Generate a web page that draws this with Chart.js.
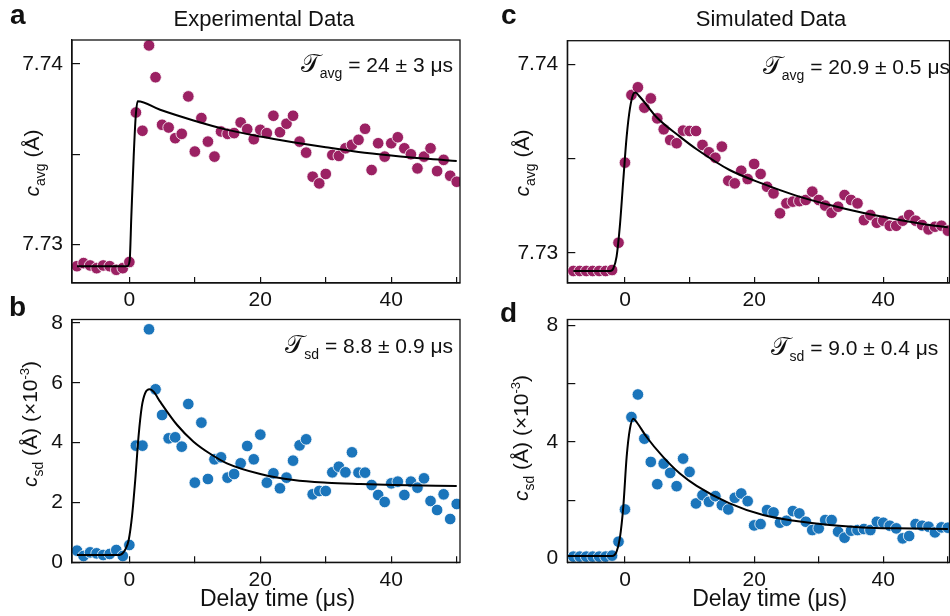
<!DOCTYPE html>
<html><head><meta charset="utf-8">
<script src="https://cdn.jsdelivr.net/npm/chart.js@4.4.1/dist/chart.umd.min.js"></script>
<style>
html,body{margin:0;padding:0;background:#fff;}
#wrap{position:relative;width:950px;height:616px;overflow:hidden;font-family:"Liberation Sans",Arial,sans-serif;color:#111;}
canvas{position:absolute;}
.let{position:absolute;font-weight:bold;font-size:28px;line-height:1;}
.ttl{position:absolute;font-size:22px;line-height:1;white-space:nowrap;transform:translateX(-50%);}
.ann{position:absolute;font-size:21px;line-height:1;white-space:nowrap;}
.sT{font-family:"DejaVu Sans","Noto Sans",serif;font-size:25px;}
.sub{font-size:14px;position:relative;top:6px;}
.sup{font-size:13px;position:relative;top:-8px;}
.yl{position:absolute;font-size:21px;line-height:1;white-space:nowrap;transform:translate(-50%,-50%) rotate(-90deg);}
.xl{position:absolute;font-size:23px;line-height:1;white-space:nowrap;transform:translateX(-50%);}
</style></head>
<body><div id="wrap">
<canvas id="ca" width="475" height="308" style="left:0;top:0"></canvas>
<canvas id="cb" width="475" height="308" style="left:0;top:308px"></canvas>
<canvas id="cc" width="475" height="308" style="left:475px;top:0"></canvas>
<canvas id="cd" width="475" height="308" style="left:475px;top:308px"></canvas>

<div class="let" style="left:10px;top:1px">a</div>
<div class="let" style="left:9px;top:293px">b</div>
<div class="let" style="left:501px;top:1px">c</div>
<div class="let" style="left:500px;top:299px">d</div>

<div class="ttl" style="left:264px;top:8px">Experimental Data</div>
<div class="ttl" style="left:771px;top:8px">Simulated Data</div>

<div class="ann" style="right:497px;top:50.5px"><span class="sT">𝒯</span><span class="sub">avg</span> = 24 ± 3 μs</div>
<div class="ann" style="right:497px;top:331.5px"><span class="sT">𝒯</span><span class="sub">sd</span> = 8.8 ± 0.9 μs</div>
<div class="ann" style="right:0px;top:53px"><span class="sT">𝒯</span><span class="sub">avg</span> = 20.9 ± 0.5 μs</div>
<div class="ann" style="right:11.7px;top:334px"><span class="sT">𝒯</span><span class="sub">sd</span> = 9.0 ± 0.4 μs</div>

<div class="yl" style="left:31px;top:163px"><i>c</i><span class="sub">avg</span> (Å)</div>
<div class="yl" style="left:29px;top:424px"><i>c</i><span class="sub">sd</span> (Å) (×10<span class="sup">-3</span>)</div>
<div class="yl" style="left:521px;top:163px"><i>c</i><span class="sub">avg</span> (Å)</div>
<div class="yl" style="left:520px;top:438px"><i>c</i><span class="sub">sd</span> (Å) (×10<span class="sup">-3</span>)</div>

<div class="xl" style="left:277.5px;top:587px">Delay time (μs)</div>
<div class="xl" style="left:769.7px;top:587px">Delay time (μs)</div>
</div>
<script>
// ---- data ----
const delay = [-8,-7,-6,-5,-4,-3,-2,-1,0,1,2,3,4,5,6,7,8,9,10,11,12,13,14,15,16,17,18,19,20,21,22,23,24,25,26,27,28,29,30,31,32,33,34,35,36,37,38,39,40,41,42,43,44,45,46,47,48,49,50];

const avgExp = [7.72881,7.72898,7.72885,7.72870,7.72885,7.72881,7.72861,7.72870,7.72904,
 7.73731,7.73630,7.74102,7.73926,7.73663,7.73648,7.73589,7.73613,7.73820,7.73515,
 7.73700,7.73570,7.73487,7.73626,7.73613,7.73617,7.73676,7.73639,7.73583,7.73635,
 7.73617,7.73713,7.73622,7.73669,7.73713,7.73570,7.73509,7.73376,7.73339,7.73391,
 7.73496,7.73491,7.73533,7.73552,7.73580,7.73641,7.73413,7.73561,7.73487,7.73561,
 7.73594,7.73533,7.73500,7.73422,7.73487,7.73533,7.73407,7.73469,7.73381,7.73348];
const avgExpFitX = [-8,-0.3,0.05,0.3,0.66,0.97,1.27,4.7,9.8,15,20,25,30,35,40,45,50];
const avgExpFitY = [7.72881,7.72881,7.72913,7.73154,7.73487,7.73709,7.73793,7.73746,7.73687,7.73635,7.73598,7.73567,7.73539,7.73513,7.73493,7.73476,7.73463];

const sdExp = [0.389,0.211,0.333,0.300,0.244,0.278,0.411,0.211,0.579,
 3.901,3.901,7.792,5.785,4.926,4.146,4.180,3.867,5.294,2.663,
 4.670,2.786,3.444,3.511,2.831,2.953,3.310,3.890,3.444,4.269,
 2.663,2.975,2.474,2.831,3.399,3.912,4.113,2.273,2.385,2.385,
 3.009,3.198,3.009,3.678,2.998,2.998,2.585,2.251,2.017,2.641,
 2.697,2.251,2.697,2.496,2.808,2.050,1.749,2.273,1.448,1.950];
const sdExpFitX = [-8,-1.5,-0.6,-0.1,0.4,0.9,1.4,1.9,2.4,3.1,3.7,4.7,7.3,9.8,12.4,14.9,20,25.1,30.2,35.3,40.4,50];
const sdExpFitY = [0.244,0.244,0.434,0.746,1.526,2.753,4.202,5.205,5.651,5.785,5.707,5.372,4.592,4.035,3.622,3.310,2.953,2.753,2.663,2.619,2.585,2.552];

const avgSim = [7.72903,7.72903,7.72903,7.72903,7.72903,7.72903,7.72908,7.73053,7.73478,
 7.73837,7.73878,7.73770,7.73819,7.73713,7.73655,7.73598,7.73581,7.73648,7.73646,
 7.73646,7.73572,7.73533,7.73504,7.73563,7.73382,7.73368,7.73435,7.73391,7.73471,
 7.73418,7.73350,7.73315,7.73209,7.73262,7.73271,7.73274,7.73280,7.73324,7.73280,
 7.73250,7.73212,7.73244,7.73306,7.73280,7.73262,7.73173,7.73200,7.73159,7.73170,
 7.73143,7.73143,7.73170,7.73200,7.73170,7.73147,7.73124,7.73138,7.73143,7.73117];
const avgSimFitX = [-8,-2.3,-1.8,-1.3,-0.8,-0.26,0.26,0.77,1.29,1.6,2.3,4.9,8.5,11.1,16.2,21.4,26.5,31.7,36.8,42,47.1,50];
const avgSimFitY = [7.72903,7.72903,7.72917,7.72979,7.73138,7.73386,7.73616,7.73766,7.73842,7.73850,7.73828,7.73719,7.73616,7.73549,7.73439,7.73365,7.73303,7.73253,7.73212,7.73177,7.73147,7.73135];

const sdSim = [0.057,0.057,0.057,0.057,0.057,0.057,0.091,0.571,1.680,
 4.857,5.634,4.114,3.314,2.549,3.257,2.937,2.480,3.429,2.971,
 1.886,2.171,1.943,2.137,1.829,1.680,2.080,2.229,1.966,1.131,
 1.177,1.657,1.577,1.223,1.291,1.623,1.543,1.257,0.971,1.029,
 1.314,1.314,0.914,0.709,0.949,0.971,1.006,0.971,1.257,1.223,
 1.120,1.029,0.686,0.766,1.177,1.120,1.086,0.891,1.063,1.051];
const sdSimFitX = [-8.9,-2,-1.3,-0.8,-0.26,0.26,0.77,1.29,1.8,3.35,5.9,8.5,11.1,16.2,21.4,26.5,31.7,36.8,42,50];
const sdSimFitY = [0.080,0.080,0.229,0.686,1.771,3.486,4.457,4.800,4.686,4.171,3.486,2.914,2.491,1.886,1.486,1.280,1.143,1.063,1.029,1.006];

// ---- tick labels ----
const xTickValues = [0,10,20,30,40,50];
const xTickLabels = ['0','','20','','40',''];
const avgTickValues = [7.73,7.735,7.74];
const avgTickLabels = ['7.73','','7.74'];
const sdExpTickValues = [0,2,4,6,8];
const sdExpTickLabels = ['0','2','4','6','8'];
const sdSimTickValues = [0,2,4,6,8];
const sdSimTickLabels = ['0','','4','','8'];

const MAGENTA = '#9b2163';
const BLUE = '#1b75bb';
const FONT = '"Liberation Sans", Arial, sans-serif';

const frame = { id:'frame', afterDatasetsDraw(c){ const a=c.chartArea, g=c.ctx; g.save(); g.strokeStyle='#111'; g.lineWidth=1.3; g.strokeRect(a.left, a.top, a.right-a.left, a.bottom-a.top); g.restore(); } };

function panel(id, o){
  return new Chart(document.getElementById(id), {
    type:'scatter',
    data:{ datasets:[
      { type:'line', data:o.fitX.map((x,i)=>({x:x,y:o.fitY[i]})), borderColor:'#000', borderWidth:2, pointRadius:0, cubicInterpolationMode:'monotone', fill:false, order:0 },
      { type:'scatter', data:delay.map((x,i)=>({x:x,y:o.pts[i]})), backgroundColor:o.color, borderColor:'#fff', borderWidth:0.8, pointRadius:5.8, order:1 }
    ]},
    options:{
      responsive:false, animation:false, devicePixelRatio:1,
      layout:{ padding:o.pad, autoPadding:false },
      plugins:{ legend:{display:false}, tooltip:{enabled:false} },
      scales:{
        x:{ type:'linear', position:'bottom', min:o.xMin, max:o.xMax,
          afterBuildTicks:s=>{ s.ticks = xTickValues.map(v=>({value:v})); },
          afterFit:s=>{ s.height=24; s.paddingLeft=0; s.paddingRight=0; s.paddingTop=0; s.paddingBottom=0; },
          ticks:{ autoSkip:false, maxRotation:0, padding:13, color:'#111', font:{family:FONT,size:21,lineHeight:1}, callback:(v,i)=>xTickLabels[i] },
          grid:{ drawOnChartArea:false, drawTicks:true, tickLength:-6, color:'#111', lineWidth:1.2 },
          border:{ display:true, color:'#111', width:1.3 } },
        y:{ type:'linear', position:'left', min:o.yMin, max:o.yMax,
          afterBuildTicks:s=>{ s.ticks = o.yTicks.map(v=>({value:v})); },
          afterFit:s=>{ s.width=50; s.paddingLeft=0; s.paddingRight=0; s.paddingTop=0; s.paddingBottom=0; },
          ticks:{ autoSkip:false, padding:17, color:'#111', font:{family:FONT,size:21,lineHeight:1}, callback:(v,i)=>o.yLabels[i] },
          grid:{ drawOnChartArea:false, drawTicks:true, tickLength:-8, color:'#111', lineWidth:1.2 },
          border:{ display:true, color:'#111', width:1.3 } }
      }
    },
    plugins:[frame]
  });
}

panel('ca',{ pts:avgExp, fitX:avgExpFitX, fitY:avgExpFitY, color:MAGENTA,
  xMin:-8.76, xMax:50.5, yMin:7.72788, yMax:7.74132, yTicks:avgTickValues, yLabels:avgTickLabels,
  pad:{left:22,right:15,top:40,bottom:1} });
panel('cb',{ pts:sdExp, fitX:sdExpFitX, fitY:sdExpFitY, color:BLUE,
  xMin:-8.76, xMax:50.5, yMin:0, yMax:8.12, yTicks:sdExpTickValues, yLabels:sdExpTickLabels,
  pad:{left:22,right:15,top:11.5,bottom:29.7} });
panel('cc',{ pts:avgSim, fitX:avgSimFitX, fitY:avgSimFitY, color:MAGENTA,
  xMin:-8.93, xMax:50.25, yMin:7.728392, yMax:7.741253, yTicks:avgTickValues, yLabels:avgTickLabels,
  pad:{left:42.3,right:0.5,top:40.7,bottom:1} });
panel('cd',{ pts:sdSim, fitX:sdSimFitX, fitY:sdSimFitY, color:BLUE,
  xMin:-8.93, xMax:50.25, yMin:-0.138, yMax:8.213, yTicks:sdSimTickValues, yLabels:sdSimTickLabels,
  pad:{left:42.3,right:0.5,top:11.5,bottom:29.7} });
</script>
</body></html>
